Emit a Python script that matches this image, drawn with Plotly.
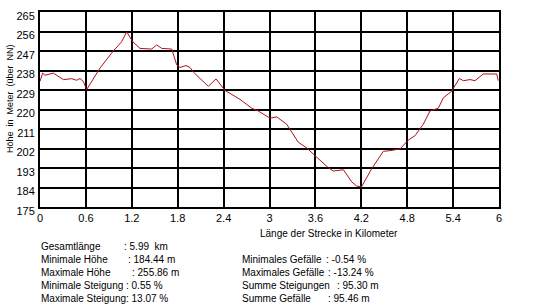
import plotly.graph_objects as go

# ---- data ----
dist_km = [0.000, 0.035, 0.065, 0.174, 0.305, 0.414, 0.480, 0.523, 0.566, 0.610,
           0.784, 0.958, 1.068, 1.133, 1.212, 1.307, 1.460, 1.525, 1.591, 1.722,
           1.787, 1.830, 1.908, 1.961, 2.004, 2.200, 2.301, 2.418, 2.614, 2.767,
           2.854, 3.007, 3.094, 3.160, 3.225, 3.376, 3.486, 3.617, 3.769, 3.834,
           3.965, 4.075, 4.140, 4.205, 4.336, 4.488, 4.575, 4.706, 4.814, 4.902,
           5.010, 5.098, 5.207, 5.273, 5.382, 5.481, 5.534, 5.621, 5.686, 5.795,
           5.970, 5.990]
elev_m = [233.0, 236.8, 235.8, 236.8, 233.8, 234.2, 233.5, 234.3, 233.0, 229.2,
          239.1, 247.0, 251.3, 255.86, 251.3, 248.2, 247.9, 249.8, 248.2, 247.9,
          240.6, 239.4, 240.3, 239.4, 237.3, 230.7, 234.1, 228.8, 224.7, 220.6,
          219.3, 216.0, 216.6, 215.0, 213.2, 204.9, 202.3, 198.0, 193.1, 191.6,
          192.2, 186.6, 184.6, 184.44, 192.7, 200.7, 201.0, 201.8, 205.9, 207.9,
          213.2, 219.3, 220.6, 225.4, 228.5, 234.3, 233.3, 233.8, 233.3, 236.4,
          236.4, 233.3]

x_ticks = [0, 0.6, 1.2, 1.8, 2.4, 3, 3.6, 4.2, 4.8, 5.4, 6]
x_tick_labels = ["0", "0.6", "1.2", "1.8", "2.4", "3", "3.6", "4.2", "4.8", "5.4", "6"]
y_ticks = [175, 184, 193, 202, 211, 220, 229, 238, 247, 256, 265]

stats_left_labels = ["Gesamtlänge", "Minimale Höhe", "Maximale Höhe",
                     "Minimale Steigung", "Maximale Steigung"]
stats_left_values = [": 5.99  km", ": 184.44 m", ": 255.86 m", ": 0.55 %", ": 13.07 %"]
stats_right_labels = ["Minimales Gefälle", "Maximales Gefälle",
                      "Summe Steigungen", "Summe Gefälle"]
stats_right_values = [": -0.54 %", ": -13.24 %", ": 95.30 m", ": 95.46 m"]

# ---- layout geometry (pixels) ----
W, H = 549, 308
PL, PR, PT, PB = 40, 499, 10, 207
pw, ph = PR - PL, PB - PT

def px(xp):
    return (xp - PL) / pw

def py(yp):
    return (PB - yp) / ph

FONT = "Liberation Sans, Arial, sans-serif"

fig = go.Figure()
fig.add_trace(go.Scatter(x=dist_km, y=elev_m, mode="lines",
                         line=dict(color="#B0101C", width=1),
                         hoverinfo="skip", showlegend=False))

fig.update_layout(
    width=W, height=H,
    margin=dict(l=PL, r=W - PR, t=PT, b=H - PB),
    paper_bgcolor="white", plot_bgcolor="white",
    font=dict(family=FONT, size=11, color="black"),
    xaxis=dict(range=[0, 6], tickvals=x_ticks, ticktext=x_tick_labels,
               showgrid=True, gridcolor="black", gridwidth=2,
               showline=True, linecolor="black", linewidth=2, mirror=True,
               zeroline=False, ticks="", ticklabelstandoff=0,
               tickfont=dict(family=FONT, size=11, color="black"), fixedrange=True),
    yaxis=dict(range=[175, 265], tickvals=y_ticks,
               showgrid=True, gridcolor="black", gridwidth=2,
               showline=True, linecolor="black", linewidth=2, mirror=True,
               zeroline=False, ticks="", ticklabelstandoff=1, ticklabelshift=4,
               tickfont=dict(family=FONT, size=11, color="black"), fixedrange=True),
)

ann = []
# axis titles
ann.append(dict(text="Länge der Strecke in Kilometer", xref="paper", yref="paper",
                x=px(329), y=py(234), xanchor="center", yanchor="middle",
                showarrow=False, font=dict(family=FONT, size=10, color="black")))
ann.append(dict(text="Höhe  in  Meter  (über  NN)", xref="paper", yref="paper",
                x=px(10), y=py(98), xanchor="center", yanchor="middle", textangle=-90,
                showarrow=False, font=dict(family=FONT, size=9, color="black")))

left_rows = [247, 260, 273, 286, 299]
left_colon = [122, 126, 130, 124, 124]
for lbl, val, yy, cx in zip(stats_left_labels, stats_left_values, left_rows, left_colon):
    ann.append(dict(text=lbl, xref="paper", yref="paper", x=px(39), y=py(yy),
                    xanchor="left", yanchor="middle", showarrow=False,
                    font=dict(family=FONT, size=10, color="black")))
    ann.append(dict(text=val, xref="paper", yref="paper", x=px(cx), y=py(yy),
                    xanchor="left", yanchor="middle", showarrow=False,
                    font=dict(family=FONT, size=10, color="black")))

right_rows = [260, 273, 286, 299]
right_colon = [324, 326, 335, 326]
for lbl, val, yy, cx in zip(stats_right_labels, stats_right_values, right_rows, right_colon):
    ann.append(dict(text=lbl, xref="paper", yref="paper", x=px(240), y=py(yy),
                    xanchor="left", yanchor="middle", showarrow=False,
                    font=dict(family=FONT, size=10, color="black")))
    ann.append(dict(text=val, xref="paper", yref="paper", x=px(cx), y=py(yy),
                    xanchor="left", yanchor="middle", showarrow=False,
                    font=dict(family=FONT, size=10, color="black")))

fig.update_layout(annotations=ann)
fig.write_html("out.html", config={"displayModeBar": False})
